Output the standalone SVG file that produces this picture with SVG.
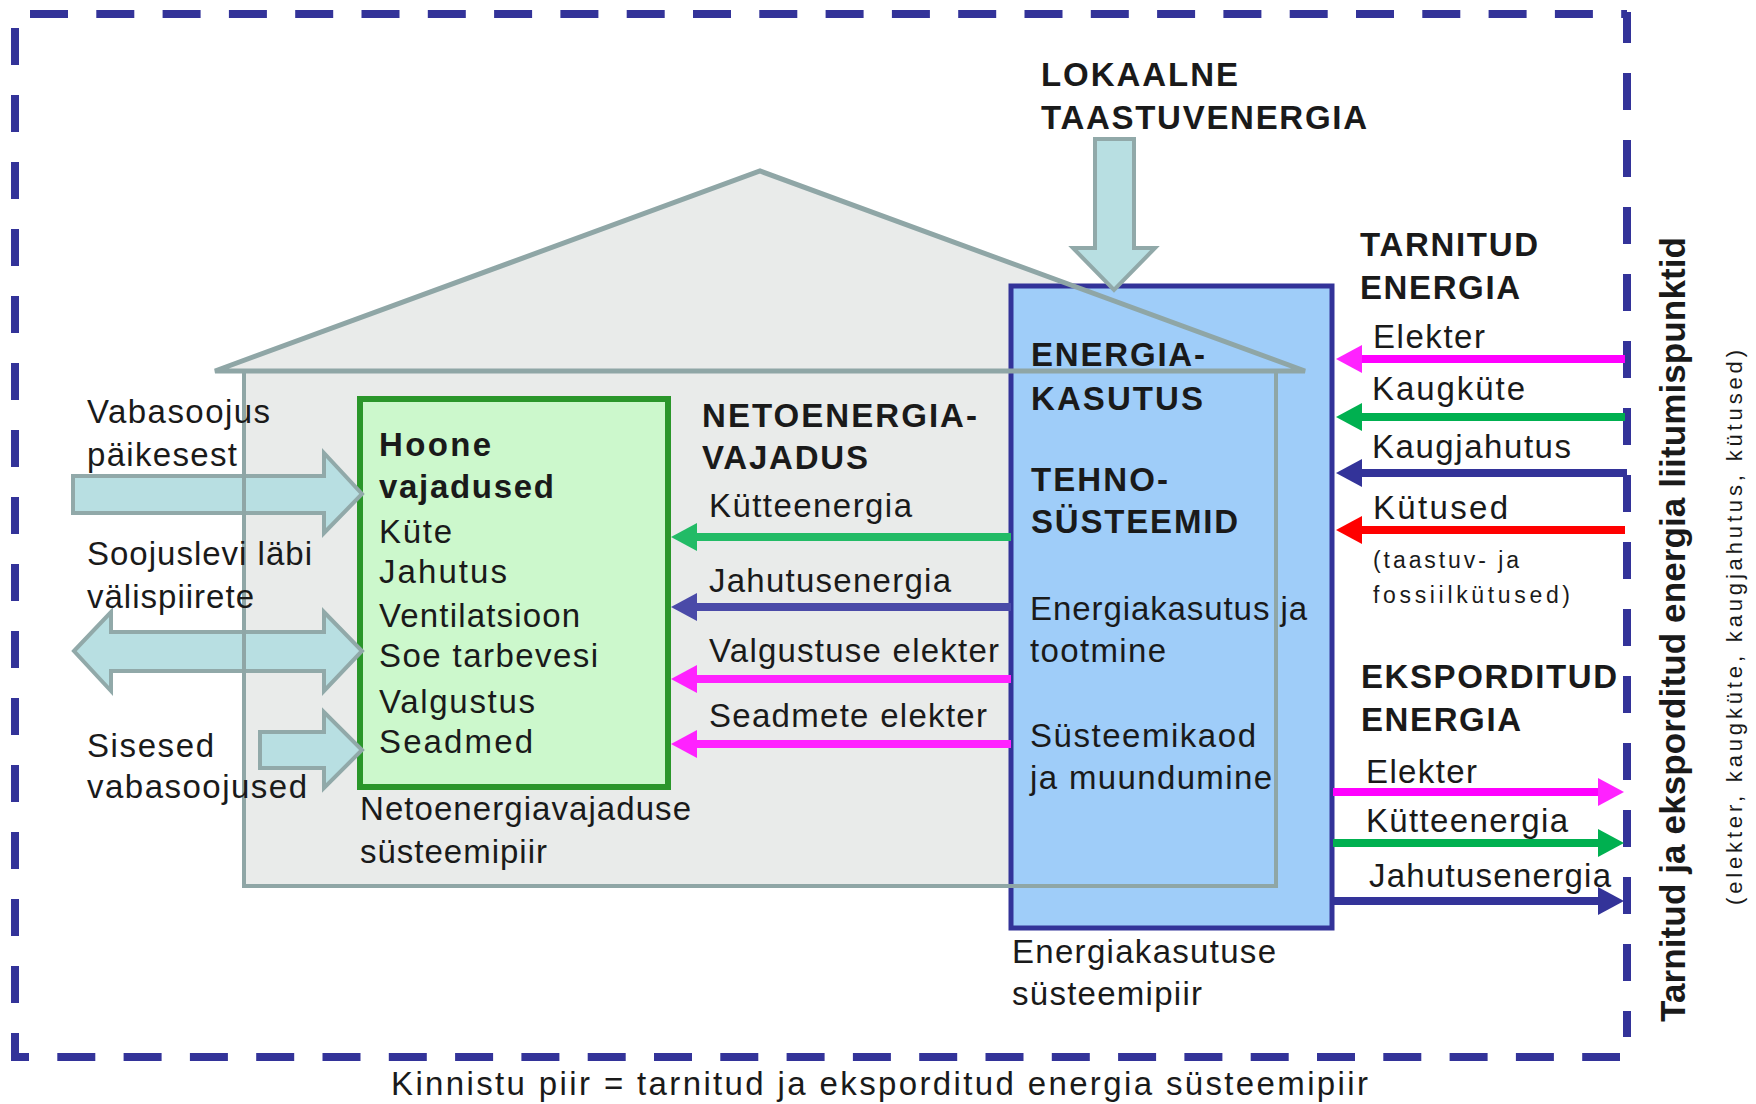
<svg xmlns="http://www.w3.org/2000/svg" width="1756" height="1104" viewBox="0 0 1756 1104">
<style>
.t{font-family:"Liberation Sans",Arial,sans-serif;font-size:33px;fill:#1a1a1a}
.b{font-weight:bold}
.s{font-size:23px}
.bd{fill:none;stroke:#333399;stroke-width:8}
.ln{fill:none;stroke-width:8}
.blk{fill:#b8dfe2;stroke:#91a9a9;stroke-width:4;stroke-linejoin:miter}
.hs{fill:none;stroke:#8fa6a6}
</style>
<defs>
<marker id="mMag" markerUnits="userSpaceOnUse" markerWidth="26" markerHeight="28" viewBox="0 0 26 28" refX="6" refY="14" orient="auto"><path d="M0,0 L26,14 L0,28 Z" fill="#ff22ff"/></marker>
<marker id="mGrn" markerUnits="userSpaceOnUse" markerWidth="26" markerHeight="28" viewBox="0 0 26 28" refX="6" refY="14" orient="auto"><path d="M0,0 L26,14 L0,28 Z" fill="#00b050"/></marker>
<marker id="mGrn2" markerUnits="userSpaceOnUse" markerWidth="26" markerHeight="28" viewBox="0 0 26 28" refX="6" refY="14" orient="auto"><path d="M0,0 L26,14 L0,28 Z" fill="#22bb66"/></marker>
<marker id="mBlu" markerUnits="userSpaceOnUse" markerWidth="26" markerHeight="28" viewBox="0 0 26 28" refX="6" refY="14" orient="auto"><path d="M0,0 L26,14 L0,28 Z" fill="#333399"/></marker>
<marker id="mBlu2" markerUnits="userSpaceOnUse" markerWidth="26" markerHeight="28" viewBox="0 0 26 28" refX="6" refY="14" orient="auto"><path d="M0,0 L26,14 L0,28 Z" fill="#4a4aa8"/></marker>
<marker id="mRed" markerUnits="userSpaceOnUse" markerWidth="26" markerHeight="28" viewBox="0 0 26 28" refX="6" refY="14" orient="auto"><path d="M0,0 L26,14 L0,28 Z" fill="#ff0000"/></marker>
</defs>

<g id="border">
<line class="bd" x1="30" y1="14" x2="1627" y2="14" stroke-dasharray="38 28.3"/>
<line class="bd" x1="15" y1="28" x2="15" y2="1057" stroke-dasharray="37 30"/>
<line class="bd" x1="11" y1="1057" x2="1620" y2="1057" stroke-dasharray="38 28.3" stroke-dashoffset="20"/>
<line class="bd" x1="1627" y1="12" x2="1627" y2="1037" stroke-dasharray="37 30" stroke-dashoffset="6"/>
</g>

<g id="house-fill">
<polygon points="215,371 760,171 1305,371" fill="#e9ebea"/>
<rect x="244" y="371" width="1032" height="515" fill="#e9ebea"/>
</g>

<g id="netoenergia-box">
<rect x="360" y="399" width="308" height="388" fill="#ccf8cc" stroke="#2a962a" stroke-width="6"/>
</g>

<g id="energiakasutus-box">
<rect x="1011" y="286" width="321" height="642" fill="#9fcdf9" stroke="#333399" stroke-width="5"/>
</g>

<g id="inflows">
<polygon class="blk" points="73,476 324,476 324,453 362,494 324,533 324,513 73,513"/>
<polygon class="blk" points="74,651 111,612 111,632 324,632 324,612 362,651 324,691 324,671 111,671 111,691"/>
<polygon class="blk" points="260,732 324,732 324,712 362,750 324,788 324,768 260,768"/>
<polygon class="blk" points="1095,139 1134,139 1134,248 1155,248 1114,290 1073,248 1095,248"/>
</g>

<g id="house-outline">
<polygon class="hs" points="215,371 760,171 1305,371" stroke-width="5"/>
<rect class="hs" x="244" y="371" width="1032" height="515" stroke-width="4"/>
</g>

<g id="connectors">
<line class="ln" x1="1011" y1="537" x2="691" y2="537" stroke="#22bb66" marker-end="url(#mGrn2)"/>
<line class="ln" x1="1011" y1="607" x2="691" y2="607" stroke="#4a4aa8" marker-end="url(#mBlu2)"/>
<line class="ln" x1="1011" y1="679" x2="691" y2="679" stroke="#ff22ff" marker-end="url(#mMag)"/>
<line class="ln" x1="1011" y1="744" x2="691" y2="744" stroke="#ff22ff" marker-end="url(#mMag)"/>
<line class="ln" x1="1625" y1="359" x2="1356" y2="359" stroke="#ff00ff" marker-end="url(#mMag)"/>
<line class="ln" x1="1625" y1="417" x2="1356" y2="417" stroke="#00b050" marker-end="url(#mGrn)"/>
<line class="ln" x1="1627" y1="473" x2="1356" y2="473" stroke="#333399" marker-end="url(#mBlu)"/>
<line class="ln" x1="1625" y1="530" x2="1356" y2="530" stroke="#ff0000" marker-end="url(#mRed)"/>
<line class="ln" x1="1333" y1="792" x2="1604" y2="792" stroke="#ff00ff" marker-end="url(#mMag)"/>
<line class="ln" x1="1333" y1="843" x2="1604" y2="843" stroke="#00b050" marker-end="url(#mGrn)"/>
<line class="ln" x1="1333" y1="901" x2="1604" y2="901" stroke="#333399" marker-end="url(#mBlu)"/>
</g>

<g id="labels">
<text class="t b" x="1041" y="86" textLength="197">LOKAALNE</text>
<text class="t b" x="1041" y="129" textLength="326">TAASTUVENERGIA</text>
<text class="t b" x="1360" y="256" textLength="178">TARNITUD</text>
<text class="t b" x="1360" y="299" textLength="160">ENERGIA</text>
<text class="t b" x="1361" y="688" textLength="256">EKSPORDITUD</text>
<text class="t b" x="1361" y="731" textLength="160">ENERGIA</text>
<text class="t b" x="702" y="427" textLength="275">NETOENERGIA-</text>
<text class="t b" x="702" y="469" textLength="166">VAJADUS</text>
<text class="t b" x="1031" y="366" textLength="174">ENERGIA-</text>
<text class="t b" x="1031" y="410" textLength="172">KASUTUS</text>
<text class="t b" x="1031" y="491" textLength="137">TEHNO-</text>
<text class="t b" x="1031" y="533" textLength="207">SÜSTEEMID</text>

<text class="t b" x="379" y="456" textLength="112">Hoone</text>
<text class="t b" x="379" y="498" textLength="175">vajadused</text>
<text class="t" x="379" y="543" textLength="73">Küte</text>
<text class="t" x="379" y="583" textLength="128">Jahutus</text>
<text class="t" x="379" y="627" textLength="201">Ventilatsioon</text>
<text class="t" x="379" y="667" textLength="219">Soe tarbevesi</text>
<text class="t" x="379" y="713" textLength="156">Valgustus</text>
<text class="t" x="379" y="753" textLength="154">Seadmed</text>

<text class="t" x="87" y="423" textLength="183">Vabasoojus</text>
<text class="t" x="87" y="466" textLength="150">päikesest</text>
<text class="t" x="87" y="565" textLength="225">Soojuslevi läbi</text>
<text class="t" x="87" y="608" textLength="167">välispiirete</text>
<text class="t" x="87" y="757" textLength="127">Sisesed</text>
<text class="t" x="87" y="798" textLength="220">vabasoojused</text>

<text class="t" x="360" y="820" textLength="331">Netoenergiavajaduse</text>
<text class="t" x="360" y="863" textLength="187">süsteemipiir</text>

<text class="t" x="709" y="517" textLength="203">Kütteenergia</text>
<text class="t" x="709" y="592" textLength="242">Jahutusenergia</text>
<text class="t" x="709" y="662" textLength="290">Valgustuse elekter</text>
<text class="t" x="709" y="727" textLength="278">Seadmete elekter</text>

<text class="t" x="1030" y="620" textLength="277">Energiakasutus ja</text>
<text class="t" x="1030" y="662" textLength="136">tootmine</text>
<text class="t" x="1030" y="747" textLength="226">Süsteemikaod</text>
<text class="t" x="1030" y="789" textLength="242">ja muundumine</text>

<text class="t" x="1012" y="963" textLength="264">Energiakasutuse</text>
<text class="t" x="1012" y="1005" textLength="190">süsteemipiir</text>

<text class="t" x="1373" y="348" textLength="112">Elekter</text>
<text class="t" x="1372" y="400" textLength="153">Kaugküte</text>
<text class="t" x="1372" y="458" textLength="199">Kaugjahutus</text>
<text class="t" x="1373" y="519" textLength="135">Kütused</text>
<text class="t s" x="1373" y="568" textLength="146">(taastuv- ja</text>
<text class="t s" x="1373" y="603" textLength="197">fossiilkütused)</text>

<text class="t" x="1366" y="783" textLength="111">Elekter</text>
<text class="t" x="1366" y="832" textLength="202">Kütteenergia</text>
<text class="t" x="1369" y="887" textLength="242">Jahutusenergia</text>

<text class="t b" transform="translate(1685,1022) rotate(-90)" style="font-size:35px" textLength="785">Tarnitud ja eksporditud energia liitumispunktid</text>
<text class="t" transform="translate(1742,905) rotate(-90)" style="font-size:22px" textLength="555">(elekter, kaugküte, kaugjahutus, kütused)</text>

<text class="t" x="391" y="1095" textLength="977">Kinnistu piir = tarnitud ja eksporditud energia süsteemipiir</text>
</g>
</svg>
